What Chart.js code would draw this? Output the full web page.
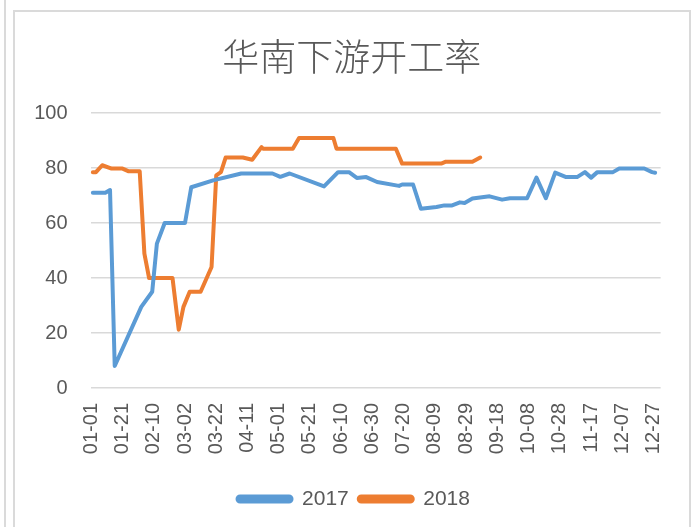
<!DOCTYPE html>
<html>
<head>
<meta charset="utf-8">
<script src="https://cdn.jsdelivr.net/npm/chart.js@4.4.1/dist/chart.umd.min.js"></script>
<style>
  html, body { margin: 0; padding: 0; background: #ffffff; }
  #wrap { position: relative; width: 693px; height: 527px; overflow: hidden; }
  .edge { position: absolute; background: #dadada; }
  canvas { position: absolute; left: 0; top: 0; }
</style>
</head>
<body>
<div id="wrap">
  <div class="edge" style="left:4px; top:0; width:2px; height:527px;"></div>
  <div class="edge" style="left:13px; top:10px; width:2px; height:517px;"></div>
  <div class="edge" style="left:13px; top:10px; width:678px; height:2px;"></div>
  <div class="edge" style="left:689px; top:10px; width:2px; height:517px;"></div>
  <canvas id="c" width="693" height="527"></canvas>
</div>
<script>
// ---- data ----
const chartTitle = '华南下游开工率';
const seriesNames = ['2017', '2018'];
const monthDays = [31, 28, 31, 30, 31, 30, 31, 31, 30, 31, 30, 31];
const tickEvery = 20;
const yTicks = [0, 20, 40, 60, 80, 100];

const dates2017 = ['01-02','01-10','01-13','01-16','02-02','02-09','02-12','02-17','03-02','03-06',
  '03-20','04-07','04-27','05-02','05-08','05-30','06-08','06-15','06-20','06-26',
  '07-03','07-17','07-19','07-26','07-31','08-10','08-15','08-20','08-25','08-28',
  '09-02','09-13','09-21','09-26','10-07','10-13','10-19','10-25','11-01','11-08',
  '11-13','11-17','11-21','12-01','12-05','12-21','12-26','12-28'];
const values2017 = [71,71,72,8,29.5,35,52.5,60,60,73,
  75.5,78,78,76.8,78,73.3,78.5,78.5,76.4,76.7,
  74.9,73.5,74,74,65.2,65.8,66.4,66.4,67.5,67.3,
  68.9,69.7,68.5,69,69,76.5,69,78.3,76.7,76.7,
  78.5,76.5,78.5,78.5,79.8,79.8,78.5,78.3];

const dates2018 = ['01-02','01-04','01-08','01-14','01-21','01-25','02-01','02-04','02-07','02-22',
  '02-26','03-01','03-05','03-12','03-19','03-22','03-25','03-28','04-08','04-14',
  '04-20','04-21','05-10','05-14','06-05','06-07','07-15','07-19','08-13','08-16',
  '09-02','09-07'];
const values2018 = [78.5,78.5,81,79.8,79.8,78.8,78.8,48.9,40,40,
  21.2,29.5,35,35,44,77.3,78.5,83.8,83.8,83,
  87.6,87,87,90.9,90.9,87,87,81.6,81.6,82.3,
  82.3,83.8];

// ---- category labels (every day of the year) ----
const dayLabels = [];
monthDays.forEach((n, m) => {
  for (let d = 1; d <= n; d++) {
    dayLabels.push(String(m + 1).padStart(2, '0') + '-' + String(d).padStart(2, '0'));
  }
});

const toPoints = (dates, vals) => dates.map((d, i) => ({ x: d, y: vals[i] }));

const textColor = '#595959';
const baseFont = 'Liberation Sans, Arial, sans-serif';

const blockShift = {
  id: 'blockShift',
  afterLayout(chart) {
    const l = chart.legend;
    if (l) { l.left += 9; l.right += 9; }
    const t = chart.titleBlock;
    if (t) { t.left += 7; t.right += 7; }
  }
};

new Chart(document.getElementById('c'), {
  type: 'line',
  plugins: [blockShift],
  data: {
    labels: dayLabels,
    datasets: [
      {
        label: seriesNames[0],
        data: toPoints(dates2017, values2017),
        borderColor: '#5B9BD5',
        backgroundColor: '#5B9BD5',
        borderWidth: 4,
        pointRadius: 0,
        tension: 0,
        borderJoinStyle: 'round',
        borderCapStyle: 'round'
      },
      {
        label: seriesNames[1],
        data: toPoints(dates2018, values2018),
        borderColor: '#ED7D31',
        backgroundColor: '#ED7D31',
        borderWidth: 4,
        pointRadius: 0,
        tension: 0,
        borderJoinStyle: 'round',
        borderCapStyle: 'round'
      }
    ]
  },
  options: {
    responsive: false,
    animation: false,
    layout: { padding: { left: 28, right: 31.5, top: 0, bottom: 7.5 } },
    plugins: {
      title: {
        display: true,
        text: chartTitle,
        color: textColor,
        font: { family: 'Noto Sans CJK SC', size: 37, weight: '300' },
        padding: { top: 35, bottom: 33.6 }
      },
      legend: {
        position: 'bottom',
        labels: {
          color: textColor,
          font: { family: baseFont, size: 21 },
          boxWidth: 54,
          boxHeight: 5,
          useBorderRadius: true,
          borderRadius: 2.5,
          padding: 10
        }
      },
      tooltip: { enabled: false }
    },
    scales: {
      x: {
        type: 'category',
        offset: true,
        grid: { display: false, drawTicks: false },
        border: { display: false },
        afterFit: (s) => { s.height = 90.5; },
        ticks: {
          autoSkip: false,
          minRotation: 90,
          maxRotation: 90,
          padding: 15,
          color: textColor,
          font: { family: baseFont, size: 20 },
          callback: function (val, idx) {
            return idx % tickEvery === 0 ? this.getLabelForValue(val) : null;
          }
        }
      },
      y: {
        min: yTicks[0],
        max: yTicks[yTicks.length - 1],
        afterFit: (s) => { s.width = 62.5; },
        afterBuildTicks: (s) => { s.ticks = yTicks.map(v => ({ value: v })); },
        grid: { color: '#d9d9d9', lineWidth: 1.6, drawTicks: false },
        border: { display: false },
        ticks: {
          padding: 23,
          color: textColor,
          font: { family: baseFont, size: 20 }
        }
      }
    }
  }
});
</script>
</body>
</html>
